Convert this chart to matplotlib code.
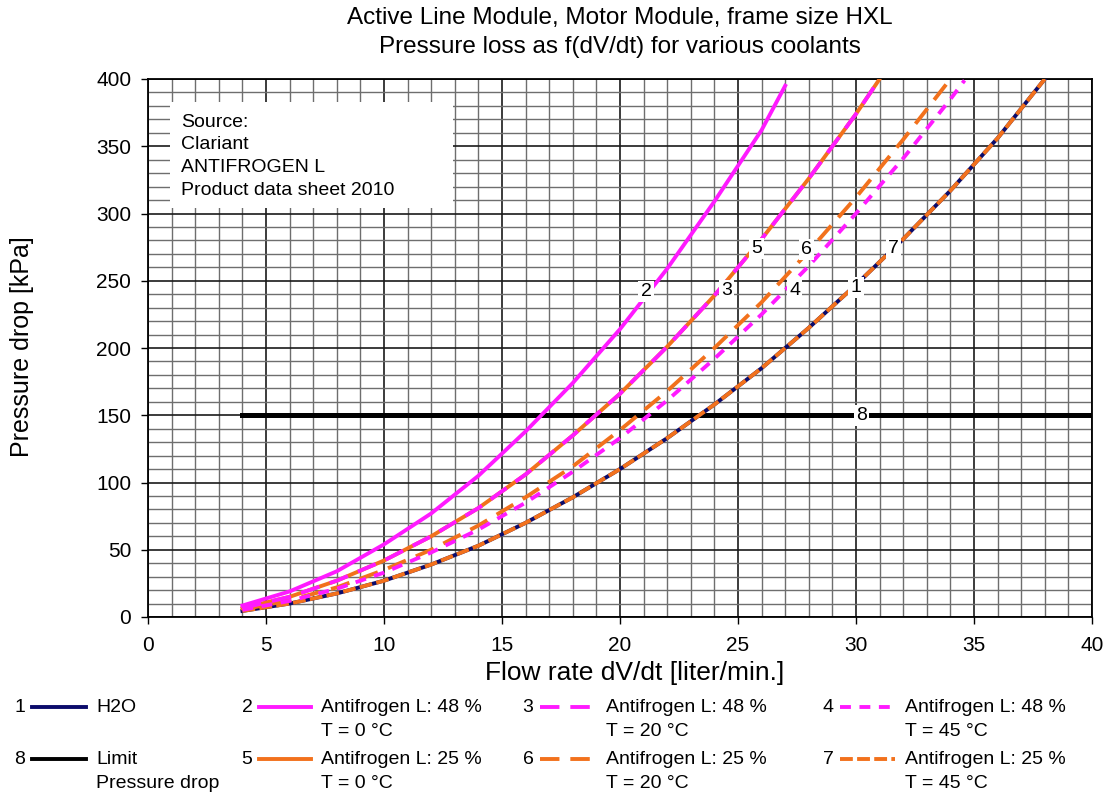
import matplotlib.pyplot as plt
from matplotlib.lines import Line2D
from matplotlib.patches import Rectangle

plt.rcParams["font.family"] = ["Liberation Sans", "DejaVu Sans"]

# Curve data: flow rate [l/min] and pressure drop [kPa]
flow_h2o = [4, 6, 8, 10, 12, 14, 16, 18, 20, 22, 24, 26, 28, 30, 32, 34, 36, 38]
dp_h2o = [4.5, 10, 17.5, 27, 39, 53, 70, 89, 110, 133, 158, 185, 215, 247, 281, 317, 356, 400]

flow_48_0 = [4, 6, 8, 10, 12, 14, 16, 18, 20, 22, 24, 26, 27]
dp_48_0 = [8.5, 19, 34, 54, 77, 105, 138, 174, 214, 259, 309, 362, 395]

flow_48_20 = [4, 6, 8, 10, 12, 14, 16, 18, 20, 22, 24, 26, 28, 30, 31]
dp_48_20 = [6.6, 15, 27, 42, 60, 81, 106, 135, 166, 201, 239, 281, 326, 374, 400]

flow_48_45 = [4, 6, 8, 10, 12, 14, 16, 18, 20, 22, 24, 26, 28, 30, 32, 34, 34.6]
dp_48_45 = [5.3, 12, 21, 33, 48, 65, 85, 108, 133, 161, 192, 225, 261, 300, 341, 385, 399]

flow_25_0 = [4, 6, 8, 10, 12, 14, 16, 18, 20, 22, 24, 26, 28, 30, 31]
dp_25_0 = [6.6, 15, 27, 42, 60, 81, 106, 135, 166, 201, 239, 281, 326, 374, 400]

flow_25_20 = [4, 6, 8, 10, 12, 14, 16, 18, 20, 22, 24, 26, 28, 30, 32, 34]
dp_25_20 = [5.5, 12.5, 22, 35, 50, 68, 89, 112, 139, 168, 200, 234, 272, 312, 355, 400]

flow_25_45 = [4, 6, 8, 10, 12, 14, 16, 18, 20, 22, 24, 26, 28, 30, 32, 34, 36, 38]
dp_25_45 = [4.5, 10, 17.5, 27, 39, 53, 70, 89, 110, 133, 158, 185, 215, 247, 281, 317, 356, 400]

limit_flow = [4, 40]
limit_dp = [150, 150]

legend_ids = ["1", "2", "3", "4", "8", "5", "6", "7"]
legend_text = [
    ["H2O", ""],
    ["Antifrogen L: 48 %", "T = 0 °C"],
    ["Antifrogen L: 48 %", "T = 20 °C"],
    ["Antifrogen L: 48 %", "T = 45 °C"],
    ["Limit", "Pressure drop"],
    ["Antifrogen L: 25 %", "T = 0 °C"],
    ["Antifrogen L: 25 %", "T = 20 °C"],
    ["Antifrogen L: 25 %", "T = 45 °C"],
]

source_lines = ["Source:", "Clariant", "ANTIFROGEN L", "Product data sheet 2010"]

# styles
navy = "#0b0b6b"
magenta = "#ff1aff"
orange = "#f2711c"
lw = 2.8
styles = {
    "1": dict(color=navy, lw=lw),
    "2": dict(color=magenta, lw=lw),
    "3": dict(color=magenta, lw=lw, dashes=(5, 2.8)),
    "4": dict(color=magenta, lw=lw, dashes=(2.8, 2.2)),
    "5": dict(color=orange, lw=lw),
    "6": dict(color=orange, lw=lw, dashes=(5, 2.8)),
    "7": dict(color=orange, lw=lw, dashes=(3.3, 1.1)),
    "8": dict(color="black", lw=3.6),
}

W, H = 1104, 796
fig = plt.figure(figsize=(W / 100, H / 100), dpi=100)
ax = fig.add_axes([148 / W, 1 - 617 / H, 944 / W, 538 / H])

ax.set_xlim(0, 40)
ax.set_ylim(0, 400)
ax.set_xticks(range(0, 41, 5))
ax.set_xticks(range(0, 41, 1), minor=True)
ax.set_yticks(range(0, 401, 50))
ax.set_yticks(range(0, 401, 10), minor=True)
ax.grid(which="major", color="#1a1a1a", lw=1.2, zorder=0)
ax.grid(which="minor", color="#6e6e6e", lw=1.0, zorder=0)
ax.set_axisbelow(True)
ax.tick_params(which="major", direction="out", length=5, width=1, labelsize=15, pad=7)
ax.tick_params(which="minor", length=0)
ax.tick_params(axis="x", pad=9)
for s in ax.spines.values():
    s.set_color("black")
    s.set_linewidth(1.3)

# source box
ax.add_patch(Rectangle((0.93, 304), 12.0, 79, facecolor="white", edgecolor="none", zorder=2))
for i, line in enumerate(source_lines):
    ax.text(1.4, 368 - i * 17, line, fontsize=14, va="center", ha="left", zorder=3)

# curves
ax.plot(limit_flow, limit_dp, zorder=3, **styles["8"])
ax.plot(flow_h2o, dp_h2o, zorder=4, **styles["1"])
ax.plot(flow_25_45, dp_25_45, zorder=5, **styles["7"])
ax.plot(flow_25_0, dp_25_0, zorder=4, **styles["5"])
ax.plot(flow_48_20, dp_48_20, zorder=5, **styles["3"])
ax.plot(flow_25_20, dp_25_20, zorder=4, **styles["6"])
ax.plot(flow_48_45, dp_48_45, zorder=5, **styles["4"])
ax.plot(flow_48_0, dp_48_0, zorder=5, **styles["2"])

# curve number labels
curve_labels = [("2", 21.1, 242), ("3", 24.5, 243), ("5", 25.8, 274), ("6", 27.9, 273),
                ("4", 27.4, 243), ("1", 30.0, 245), ("7", 31.6, 274), ("8", 30.25, 150)]
for lab, x, y in curve_labels:
    ax.text(x, y, lab, fontsize=14, ha="center", va="center", zorder=6,
            bbox=dict(facecolor="white", edgecolor="none", pad=1.5))

# titles and axis labels
fig.text(620 / W, 1 - 18 / H, "Active Line Module, Motor Module, frame size HXL",
         fontsize=17.5, ha="center", va="center")
fig.text(620 / W, 1 - 47 / H, "Pressure loss as f(dV/dt) for various coolants",
         fontsize=17.5, ha="center", va="center")
fig.text(635 / W, 1 - 673 / H, "Flow rate dV/dt [liter/min.]", fontsize=19,
         ha="center", va="center")
fig.text(22 / W, 1 - 347 / H, "Pressure drop [kPa]", fontsize=18, rotation=90,
         ha="center", va="center")

# legend below the chart
col_num_x = [20, 247, 528, 828]
col_text_x = [96, 321, 606, 905]
row_y = [707, 759]
for k, (cid, txt) in enumerate(zip(legend_ids, legend_text)):
    col = k % 4
    row = k // 4
    y = row_y[row]
    fig.text(col_num_x[col] / W, 1 - y / H, cid, fontsize=14, ha="center", va="center")
    x0 = col_num_x[col] + 12
    x1 = col_text_x[col] - 10
    st = dict(styles[cid])
    if cid == "8":
        st["lw"] = lw
    fig.add_artist(Line2D([x0 / W, x1 / W], [1 - y / H, 1 - y / H], **st))
    fig.text(col_text_x[col] / W, 1 - y / H, txt[0], fontsize=14, ha="left", va="center")
    if txt[1]:
        fig.text(col_text_x[col] / W, 1 - (y + 25) / H, txt[1], fontsize=14,
                 ha="left", va="center")

fig.savefig("out.png", dpi=100)
